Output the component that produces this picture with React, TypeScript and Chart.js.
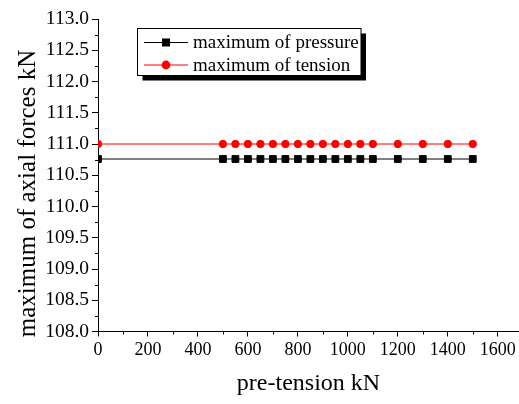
import { useEffect, useRef } from 'react';
import { Chart, registerables } from 'chart.js';

Chart.register(...registerables);

// ---- data ----
const preTension = [0, 500, 550, 600, 650, 700, 750, 800, 850, 900, 950, 1000, 1050, 1100, 1200, 1300, 1400, 1500];
const maxPressure = [110.76, 110.76, 110.76, 110.76, 110.76, 110.76, 110.76, 110.76, 110.76, 110.76, 110.76, 110.76, 110.76, 110.76, 110.76, 110.76, 110.76, 110.76];
const maxTension = [111.0, 111.0, 111.0, 111.0, 111.0, 111.0, 111.0, 111.0, 111.0, 111.0, 111.0, 111.0, 111.0, 111.0, 111.0, 111.0, 111.0, 111.0];
const seriesNames = ['maximum of pressure', 'maximum of tension'];
const xMajorTicks = [0, 200, 400, 600, 800, 1000, 1200, 1400, 1600];
const xMinorTicks = [100, 300, 500, 700, 900, 1100, 1300, 1500];
const yMajorTicks = [108.0, 108.5, 109.0, 109.5, 110.0, 110.5, 111.0, 111.5, 112.0, 112.5, 113.0];
const yMinorTicks = [108.25, 108.75, 109.25, 109.75, 110.25, 110.75, 111.25, 111.75, 112.25, 112.75];
const xTitle = 'pre-tension kN';
const yTitle = 'maximum of axial forces kN';

const FONT = "'Liberation Serif', 'Times New Roman', serif";

const decorations = {
  id: 'decorations',
  afterDraw(chart: any) {
    const ctx = chart.ctx as CanvasRenderingContext2D;
    const xs = chart.scales.x;
    const ys = chart.scales.y;
    ctx.save();
    // minor ticks
    ctx.strokeStyle = '#000';
    ctx.lineWidth = 1;
    ctx.beginPath();
    for (const v of xMinorTicks) {
      const px = Math.round(xs.getPixelForValue(v)) + 0.5;
      ctx.moveTo(px, xs.top);
      ctx.lineTo(px, xs.top + 3);
    }
    for (const v of yMinorTicks) {
      const py = Math.round(ys.getPixelForValue(v)) + 0.5;
      ctx.moveTo(ys.right - 3, py);
      ctx.lineTo(ys.right, py);
    }
    ctx.stroke();

    // y axis title
    ctx.save();
    ctx.translate(35, 193.5);
    ctx.rotate(-Math.PI / 2);
    ctx.fillStyle = '#000';
    ctx.font = `25px ${FONT}`;
    ctx.textAlign = 'center';
    ctx.textBaseline = 'alphabetic';
    ctx.fillText(yTitle, 0, 0);
    ctx.restore();

    // legend box with shadow
    const bx = 137.5, by = 28.5, bw = 223.5, bh = 47;
    ctx.fillStyle = '#000';
    ctx.fillRect(bx + 5, by + 5, bw, bh);
    ctx.fillStyle = '#fff';
    ctx.fillRect(bx, by, bw, bh);
    ctx.strokeStyle = '#000';
    ctx.lineWidth = 1;
    ctx.strokeRect(bx, by, bw, bh);

    const rows = [42.5, 65];
    chart.data.datasets.forEach((ds: any, i: number) => {
      const y = rows[i];
      ctx.strokeStyle = ds.borderColor;
      ctx.lineWidth = 1;
      ctx.beginPath();
      ctx.moveTo(144, y);
      ctx.lineTo(188, y);
      ctx.stroke();
      ctx.fillStyle = ds.backgroundColor;
      if (ds.pointStyle === 'rect') {
        ctx.fillRect(162, y - 4, 8, 8);
      } else {
        ctx.beginPath();
        ctx.arc(166, y, 4.4, 0, Math.PI * 2);
        ctx.fill();
      }
      ctx.fillStyle = '#000';
      ctx.font = `19px ${FONT}`;
      ctx.textBaseline = 'middle';
      ctx.textAlign = 'left';
      ctx.fillText(seriesNames[i], 193, y + 1);
    });
    ctx.restore();
  },
};

export default function App() {
  const ref = useRef<HTMLCanvasElement>(null);
  useEffect(() => {
    if (!ref.current) return;
    Chart.defaults.font.family = FONT;
    const chart = new Chart(ref.current, {
      type: 'line',
      data: {
        datasets: [
          {
            label: seriesNames[0],
            data: preTension.map((x, i) => ({ x, y: maxPressure[i] })),
            borderColor: '#000000',
            backgroundColor: '#000000',
            borderWidth: 1,
            pointStyle: 'rect',
            pointRadius: 4.8,
            pointBorderWidth: 1,
            pointBackgroundColor: '#000000',
            pointBorderColor: '#000000',
            clip: 0,
          },
          {
            label: seriesNames[1],
            data: preTension.map((x, i) => ({ x, y: maxTension[i] })),
            borderColor: '#ff0000',
            backgroundColor: '#ff0000',
            borderWidth: 1,
            pointStyle: 'circle',
            pointRadius: 3.7,
            pointBorderWidth: 1,
            pointBackgroundColor: '#ff0000',
            pointBorderColor: '#ff0000',
            clip: 0,
          },
        ],
      },
      options: {
        animation: false,
        responsive: false,
        devicePixelRatio: 1,
        layout: { autoPadding: false, padding: { top: 19, right: 0, left: 0, bottom: 0 } },
        plugins: { legend: { display: false }, tooltip: { enabled: false } },
        scales: {
          x: {
            type: 'linear',
            min: 0,
            max: 1685,
            afterBuildTicks: (s: any) => {
              s.ticks = xMajorTicks.map((v) => ({ value: v }));
            },
            afterFit: (s: any) => {
              s.height = 72.5;
              s.paddingLeft = 0;
              s.paddingRight = 0;
            },
            grid: { drawOnChartArea: false, drawTicks: true, tickLength: 5, tickColor: '#000' },
            border: { display: true, color: '#000', width: 1 },
            ticks: {
              autoSkip: false,
              maxRotation: 0,
              padding: 3,
              color: '#000',
              font: { family: FONT, size: 18 },
              callback: (v: any) => String(v),
            },
            title: {
              display: true,
              text: xTitle,
              color: '#000',
              font: { family: FONT, size: 24 },
              padding: { top: 0, bottom: 6 },
            },
          },
          y: {
            type: 'linear',
            min: 108,
            max: 113,
            afterBuildTicks: (s: any) => {
              s.ticks = yMajorTicks.map((v) => ({ value: v }));
            },
            afterFit: (s: any) => {
              s.width = 98;
              s.paddingTop = 0;
              s.paddingBottom = 0;
            },
            grid: { drawOnChartArea: false, drawTicks: true, tickLength: 6, tickColor: '#000' },
            border: { display: true, color: '#000', width: 1 },
            ticks: {
              autoSkip: false,
              padding: 3,
              color: '#000',
              font: { family: FONT, size: 19.5 },
              callback: (v: any) => Number(v).toFixed(1),
            },
            title: { display: false },
          },
        },
      },
      plugins: [decorations],
    } as any);
    return () => chart.destroy();
  }, []);
  return (
    <div style={{ position: 'absolute', left: 0, top: 0, width: 519, height: 404, background: '#fff' }}>
      <canvas ref={ref} width={519} height={404} />
    </div>
  );
}
